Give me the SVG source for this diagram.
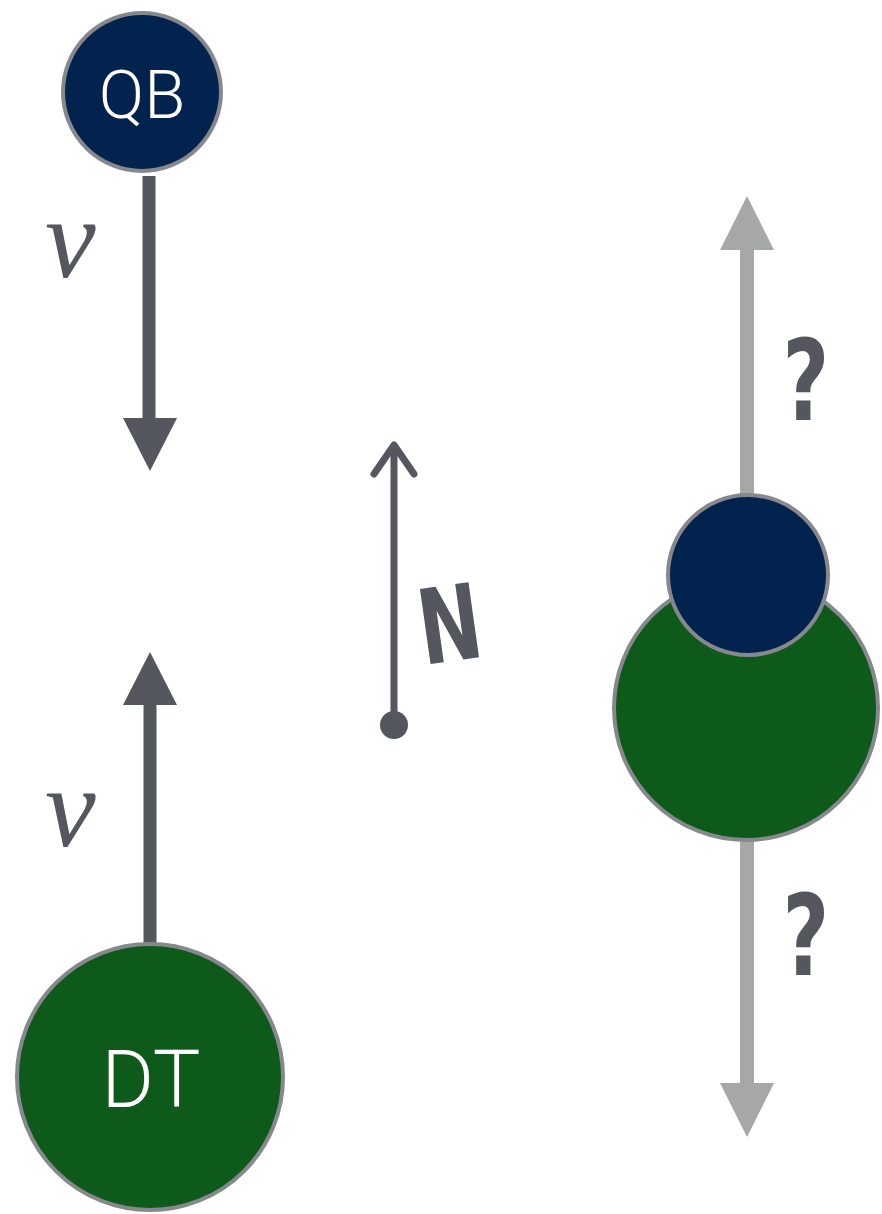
<svg xmlns="http://www.w3.org/2000/svg" width="882" height="1214" viewBox="0 0 882 1214">
<style>
.node{stroke:#87888d;stroke-width:4}
.navy{fill:#02234e}
.green{fill:#0e5a1a}
.lbl{fill:#ffffff;font-family:Roboto,"Liberation Sans",sans-serif;font-weight:300;text-anchor:middle}
.dk{stroke:#54575e;stroke-width:13;fill:none}
.lt{stroke:#a5a8a7;stroke-width:14;fill:none}
.vv{fill:#54575e;font-family:"Liberation Serif",serif;font-style:italic}
.q{fill:#54575e;font-family:"DejaVu Sans",sans-serif;font-weight:bold}
</style>
<rect width="882" height="1214" fill="#ffffff"/>
<g id="connectors">
  <line class="dk" x1="149" y1="176" x2="149" y2="420"/>
  <polygon fill="#54575e" points="123,418 177,418 150,471"/>
  <line class="dk" x1="150" y1="945" x2="150" y2="703"/>
  <polygon fill="#54575e" points="123,705 177,705 150,652"/>
  <line x1="394" y1="725" x2="394" y2="447" stroke="#54575e" stroke-width="7"/>
  <polyline points="374,474 394,445 414,474" fill="none" stroke="#54575e" stroke-width="7" stroke-linecap="round" stroke-linejoin="round"/>
  <circle cx="394" cy="725" r="14" fill="#54575e"/>
  <line class="lt" x1="747" y1="495" x2="747" y2="248"/>
  <polygon fill="#a5a8a7" points="720,250 774,250 747,196"/>
  <line class="lt" x1="747" y1="840" x2="747" y2="1085"/>
  <polygon fill="#a5a8a7" points="720,1083 774,1083 747,1137"/>
  <text class="vv" x="45" y="277" font-size="114">v</text>
  <text class="vv" x="45" y="846" font-size="114">v</text>
  <text class="q" transform="rotate(-8 449 620) translate(449 661) scale(0.72 1)" font-size="104" text-anchor="middle">N</text>
  <text class="q" transform="translate(806 420) scale(0.72 1)" font-size="112" text-anchor="middle">?</text>
  <text class="q" transform="translate(806 975) scale(0.72 1)" font-size="112" text-anchor="middle">?</text>
</g>
<g id="QB">
  <circle class="node navy" cx="142" cy="92" r="79"/>
  <text class="lbl" x="142" y="118" font-size="67">QB</text>
</g>
<g id="DT">
  <circle class="node green" cx="150" cy="1077" r="133"/>
  <text class="lbl" x="151" y="1107" font-size="80">DT</text>
</g>
<g id="DT2">
  <circle class="node green" cx="746" cy="708" r="132"/>
</g>
<g id="QB2">
  <circle class="node navy" cx="748" cy="575" r="80"/>
</g>
</svg>
